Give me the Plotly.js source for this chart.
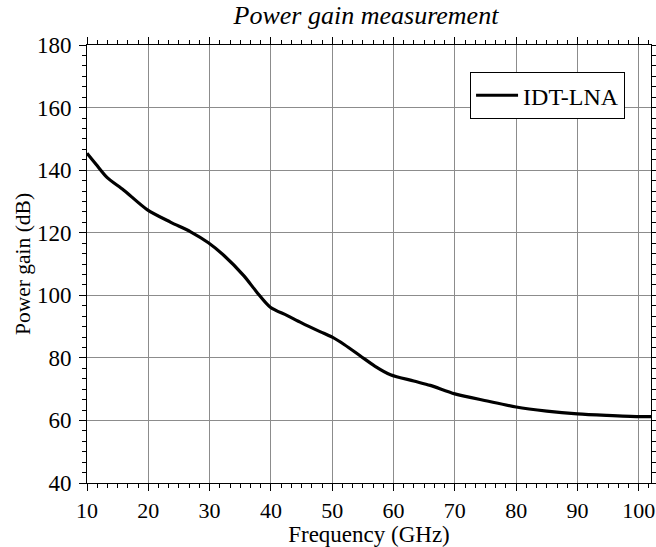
<!DOCTYPE html>
<html>
<head>
<meta charset="utf-8">
<script src="https://cdn.plot.ly/plotly-3.0.1.min.js"></script>
<style>html,body{margin:0;padding:0;background:#fff;}#chart{width:656px;height:547px;}</style>
</head>
<body>
<div id="chart"></div>
<script>
const seriesName = 'IDT-LNA';
const frequency = [10, 11.5, 13.3, 16, 19.8, 23.6, 26.9, 29.8, 32.3, 35.6, 37.7, 39.9, 42.6, 45, 48, 50, 52, 54.6, 57, 59.5, 63.3, 66, 70, 75.3, 80, 85, 90, 94.8, 100, 102];
const gain = [145.4, 141.8, 137.6, 133.6, 127.4, 123.4, 120.3, 116.8, 112.8, 106.2, 101, 96.2, 93.6, 91.2, 88.4, 86.6, 84.2, 80.6, 77.3, 74.6, 72.6, 71.2, 68.5, 66.2, 64.3, 63.0, 62.1, 61.6, 61.2, 61.2];
const titleText = 'Power gain measurement';
const xTitle = 'Frequency (GHz)';
const yTitle = 'Power gain (dB)';

const font = '"Liberation Serif", "Times New Roman", serif';
const trace = {
  x: frequency, y: gain, type: 'scatter', mode: 'lines', name: seriesName,
  line: {color: '#000', width: 3.2, shape: 'spline', smoothing: 0.8}
};
const axisCommon = {
  showline: true, linecolor: '#000', linewidth: 1, mirror: 'ticks',
  ticks: 'outside', ticklen: 7, tickwidth: 1, tickcolor: '#000',
  showgrid: true, gridcolor: '#8c8c8c', gridwidth: 1, zeroline: false
};
const layout = {
  width: 656, height: 547,
  margin: {l: 87, r: 5, t: 45, b: 64},
  paper_bgcolor: '#fff', plot_bgcolor: '#fff',
  font: {family: font, color: '#000'},
  title: {text: '<i>' + titleText + '</i>', font: {family: font, size: 26, color: '#000'},
          x: 366 / 656, xref: 'container', xanchor: 'center', yref: 'container', y: 1 - 6 / 547, yanchor: 'top'},
  xaxis: Object.assign({}, axisCommon, {
    range: [10, 102], tick0: 10, dtick: 10, ticklabelstandoff: 1,
    tickfont: {family: font, size: 22, color: '#000'},
    minor: {dtick: 10/6, tick0: 10, ticks: 'outside', ticklen: 4, tickcolor: '#000', showgrid: false},
    title: {text: xTitle, font: {family: font, size: 23, color: '#000'}, standoff: 2}
  }),
  yaxis: Object.assign({}, axisCommon, {
    range: [40, 180], tick0: 40, dtick: 20, ticklabelstandoff: 3,
    tickfont: {family: font, size: 23, color: '#000'},
    minor: {dtick: 20/6, tick0: 40, ticks: 'outside', ticklen: 4, tickcolor: '#000', showgrid: false},
    title: {text: yTitle, font: {family: font, size: 21.5, color: '#000'}, standoff: 0}
  }),
  showlegend: true,
  legend: {
    x: 0.954, xanchor: 'right', y: 0.938, yanchor: 'top',
    bordercolor: '#000', borderwidth: 1, bgcolor: '#fff', itemwidth: 42,
    font: {family: font, size: 24, color: '#000'}
  }
};
Plotly.newPlot('chart', [trace], layout, {displayModeBar: false, staticPlot: true});
</script>
</body>
</html>
